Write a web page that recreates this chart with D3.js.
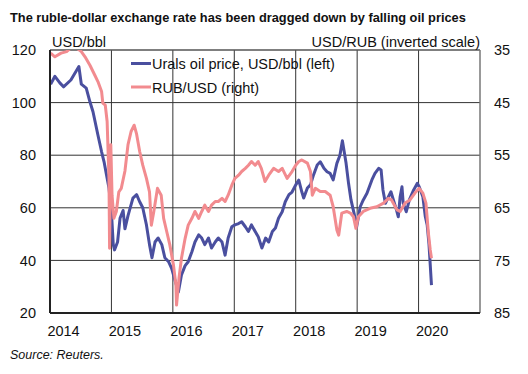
<!DOCTYPE html>
<html>
<head>
<meta charset="utf-8">
<script src="https://cdn.jsdelivr.net/npm/d3@7"></script>
<style>
  html, body { margin: 0; padding: 0; background: #fff; }
  svg { display: block; font-family: "Liberation Sans", Arial, sans-serif; }
</style>
</head>
<body>
<svg id="chart" width="528" height="374"></svg>
<script>
// ---- Data (decimal years) ----
const oilDates = [2014.01,2014.08,2014.16,2014.22,2014.34,2014.47,2014.51,2014.59,2014.65,2014.70,2014.78,2014.84,2014.88,2014.92,2014.96,
  2015.00,2015.03,2015.05,2015.10,2015.14,2015.19,2015.22,2015.27,2015.35,2015.41,2015.46,2015.51,2015.57,2015.62,2015.66,2015.71,2015.76,2015.82,2015.87,2015.93,2015.98,
  2016.04,2016.09,2016.14,2016.20,2016.25,2016.31,2016.36,2016.42,2016.47,2016.52,2016.58,2016.63,2016.69,2016.74,2016.80,2016.85,2016.90,2016.96,
  2017.01,2017.07,2017.12,2017.18,2017.23,2017.28,2017.34,2017.39,2017.45,2017.51,2017.56,2017.62,2017.67,2017.72,2017.78,2017.83,2017.89,2017.94,
  2018.00,2018.05,2018.10,2018.13,2018.19,2018.24,2018.29,2018.35,2018.40,2018.46,2018.51,2018.56,2018.61,2018.67,2018.72,2018.76,2018.82,2018.86,2018.90,2018.95,2018.99,
  2019.05,2019.10,2019.16,2019.24,2019.29,2019.35,2019.39,2019.42,2019.46,2019.51,2019.55,2019.59,2019.64,2019.67,2019.70,2019.73,2019.75,2019.80,2019.85,2019.92,2019.98,
  2020.01,2020.07,2020.11,2020.14,2020.17,2020.21];
const oilValues = [107,110,107.5,106,108.6,113.7,107,105.5,100.3,96.5,87.7,81.3,77.5,72.5,67.5,
  58.5,46,44,47,56,59,52,57,63.7,65,62.3,60,53.5,46,41,47,48.5,46,41,39.5,37,
  32,28,34.5,38,39.5,43.3,47,49.7,48.5,46,48.5,44.7,47,48.5,47,42,48.5,52.8,
  53.5,54,54.7,52.8,51,53.5,51,49,44.7,48.5,47,51,52.3,56,58.5,62.3,65,66,
  68.7,70.5,66,63.7,67.5,68.7,72.5,76.3,77.5,75,73.7,73.1,70.6,76.9,80,85.5,76.9,69.3,63,57.9,52.5,
  60.4,63,65.5,70.6,73.1,75,74.4,66.8,61.7,64.2,66.1,63,59.2,56.6,64.2,68,61.7,58.5,63,66.8,69.3,
  68,64.2,56.6,53.5,46,30.6];

const rubDates = [2014.01,2014.08,2014.18,2014.27,2014.35,2014.42,2014.51,2014.57,2014.65,2014.73,2014.78,2014.84,2014.86,2014.90,2014.93,2014.96,2014.97,2014.99,
  2015.01,2015.04,2015.08,2015.12,2015.16,2015.22,2015.27,2015.32,2015.37,2015.41,2015.46,2015.51,2015.57,2015.62,2015.65,2015.69,2015.75,2015.81,2015.85,2015.90,2015.95,
  2016.01,2016.05,2016.06,2016.10,2016.14,2016.20,2016.25,2016.31,2016.36,2016.42,2016.47,2016.52,2016.58,2016.63,2016.69,2016.74,2016.80,2016.85,2016.90,2016.96,
  2017.01,2017.07,2017.12,2017.18,2017.23,2017.28,2017.34,2017.39,2017.44,2017.50,2017.56,2017.64,2017.72,2017.78,2017.86,2017.94,
  2018.00,2018.05,2018.10,2018.19,2018.24,2018.27,2018.32,2018.40,2018.48,2018.56,2018.61,2018.67,2018.70,2018.75,2018.83,2018.89,2018.94,2018.98,
  2019.02,2019.10,2019.21,2019.32,2019.43,2019.51,2019.56,2019.65,2019.70,2019.78,2019.86,2019.94,
  2020.01,2020.07,2020.12,2020.16,2020.19,2020.21];
const rubValues = [35.6,36.3,35.6,35.3,34.5,34.5,35.3,36.3,37.9,39.8,41,42.9,45.1,45.5,48.6,59.4,72.7,53,
  62.6,67,65.7,62,61.3,58,53,50.5,49.3,51,54.3,56.9,59.4,62,68.3,65.7,61.3,62.6,67,69.5,72,
  75.9,79.7,83.5,78.4,74.6,70.8,68.3,67,65.7,67,65.7,64.5,65.7,64.5,63.8,63.8,63.2,63.8,62.6,60.7,
  59.4,58.8,58.1,57.5,56.9,56.2,56.9,56.2,57.5,60,58.8,57.5,58.1,57.5,59.4,58.1,
  56.9,56.2,55.9,56.5,58.1,62.6,61.3,61.9,61.9,62.6,64.8,69.2,70.2,66,65.7,66,66.7,68.9,
  66.7,65.7,65.1,64.8,64.1,63.2,63.5,65.4,65.7,64.1,63.5,62.2,
  61.3,62.2,64.1,69.8,73,74.6];

const yearTicks = [2014,2015,2016,2017,2018,2019,2020];
const leftTicks = [120,100,80,60,40,20];
const rightTicks = [35,45,55,65,75,85];

const titleText = "The ruble-dollar exchange rate has been dragged down by falling oil prices";
const seriesNames = ["Urals oil price, USD/bbl (left)", "RUB/USD (right)"];
const colors = ["#4a4f9f", "#f28b8f"];

// ---- Layout ----
const svg = d3.select("#chart");
const L = 50, R = 480, T = 50, B = 313;
const FONT = 14.5;

const x = d3.scaleLinear().domain([2014, 2021]).range([L, R]);
const yL = d3.scaleLinear().domain([20, 120]).range([B, T]);
const yR = d3.scaleLinear().domain([85, 35]).range([B, T]);

// title
svg.append("text").attr("x", 10).attr("y", 22)
  .attr("font-size", 12.8).attr("font-weight", "bold").attr("fill", "#111")
  .text(titleText);

// gridlines
const grid = svg.append("g");
grid.selectAll("line.h").data(leftTicks.slice(1, -1)).join("line")
  .attr("x1", L).attr("x2", R).attr("y1", d => yL(d)).attr("y2", d => yL(d))
  .attr("stroke", "#333").attr("stroke-width", 1);
grid.selectAll("line.v").data(yearTicks.slice(1)).join("line")
  .attr("x1", d => x(d)).attr("x2", d => x(d)).attr("y1", T).attr("y2", B)
  .attr("stroke", "#333").attr("stroke-width", 1);

// border
svg.append("line").attr("x1", L).attr("x2", R).attr("y1", T).attr("y2", T).attr("stroke", "#555").attr("stroke-width", 1.5);
svg.append("line").attr("x1", R).attr("x2", R).attr("y1", T).attr("y2", B).attr("stroke", "#777").attr("stroke-width", 1.5);

// clip
svg.append("clipPath").attr("id", "clip").append("rect")
  .attr("x", L).attr("y", T).attr("width", R - L).attr("height", B - T);

const plot = svg.append("g").attr("clip-path", "url(#clip)");
const lineOil = d3.line().x((d, i) => x(oilDates[i])).y(d => yL(d));
const lineRub = d3.line().x((d, i) => x(rubDates[i])).y(d => yR(d));

plot.append("path").datum(oilValues).attr("d", lineOil)
  .attr("fill", "none").attr("stroke", colors[0]).attr("stroke-width", 3)
  .attr("stroke-linejoin", "round");
plot.append("path").datum(rubValues).attr("d", lineRub)
  .attr("fill", "none").attr("stroke", colors[1]).attr("stroke-width", 3)
  .attr("stroke-linejoin", "round");

// axes lines (left & bottom)
svg.append("line").attr("x1", L).attr("x2", L).attr("y1", T).attr("y2", B).attr("stroke", "#222").attr("stroke-width", 2);
svg.append("line").attr("x1", L).attr("x2", R).attr("y1", B).attr("y2", B).attr("stroke", "#222").attr("stroke-width", 2);

// axes labels via d3 axes
const axL = svg.append("g").attr("transform", `translate(${L},0)`)
  .call(d3.axisLeft(yL).tickValues(leftTicks).tickSize(0).tickPadding(14));
const axR = svg.append("g").attr("transform", `translate(${R},0)`)
  .call(d3.axisRight(yR).tickValues(rightTicks).tickSize(0).tickPadding(14));
const axB = svg.append("g").attr("transform", `translate(0,${B})`)
  .call(d3.axisBottom(x).tickValues(yearTicks).tickFormat(d3.format("d")).tickSize(0).tickPadding(13));
[axL, axR, axB].forEach(a => {
  a.select(".domain").remove();
  a.selectAll("text").attr("font-size", FONT).attr("font-family", "Liberation Sans, Arial, sans-serif").attr("fill", "#111");
});
axB.selectAll("text").attr("dx", 13);

// unit labels
svg.append("text").attr("x", 52).attr("y", 46.5).attr("font-size", FONT).attr("fill", "#111").text("USD/bbl");
svg.append("text").attr("x", 480).attr("y", 46.5).attr("text-anchor", "end").attr("font-size", FONT).attr("fill", "#111").text("USD/RUB (inverted scale)");

// legend
const leg = svg.append("g");
const legY = [63.5, 87];
seriesNames.forEach((n, i) => {
  leg.append("line").attr("x1", 131).attr("x2", 151).attr("y1", legY[i]).attr("y2", legY[i])
    .attr("stroke", colors[i]).attr("stroke-width", 3);
  leg.append("text").attr("x", 152).attr("y", legY[i] + 5.5).attr("font-size", FONT).attr("fill", "#111").text(n);
});

// source
svg.append("text").attr("x", 10).attr("y", 359).attr("font-size", 12.5).attr("font-style", "italic")
  .attr("fill", "#111").text("Source: Reuters.");
</script>
</body>
</html>
